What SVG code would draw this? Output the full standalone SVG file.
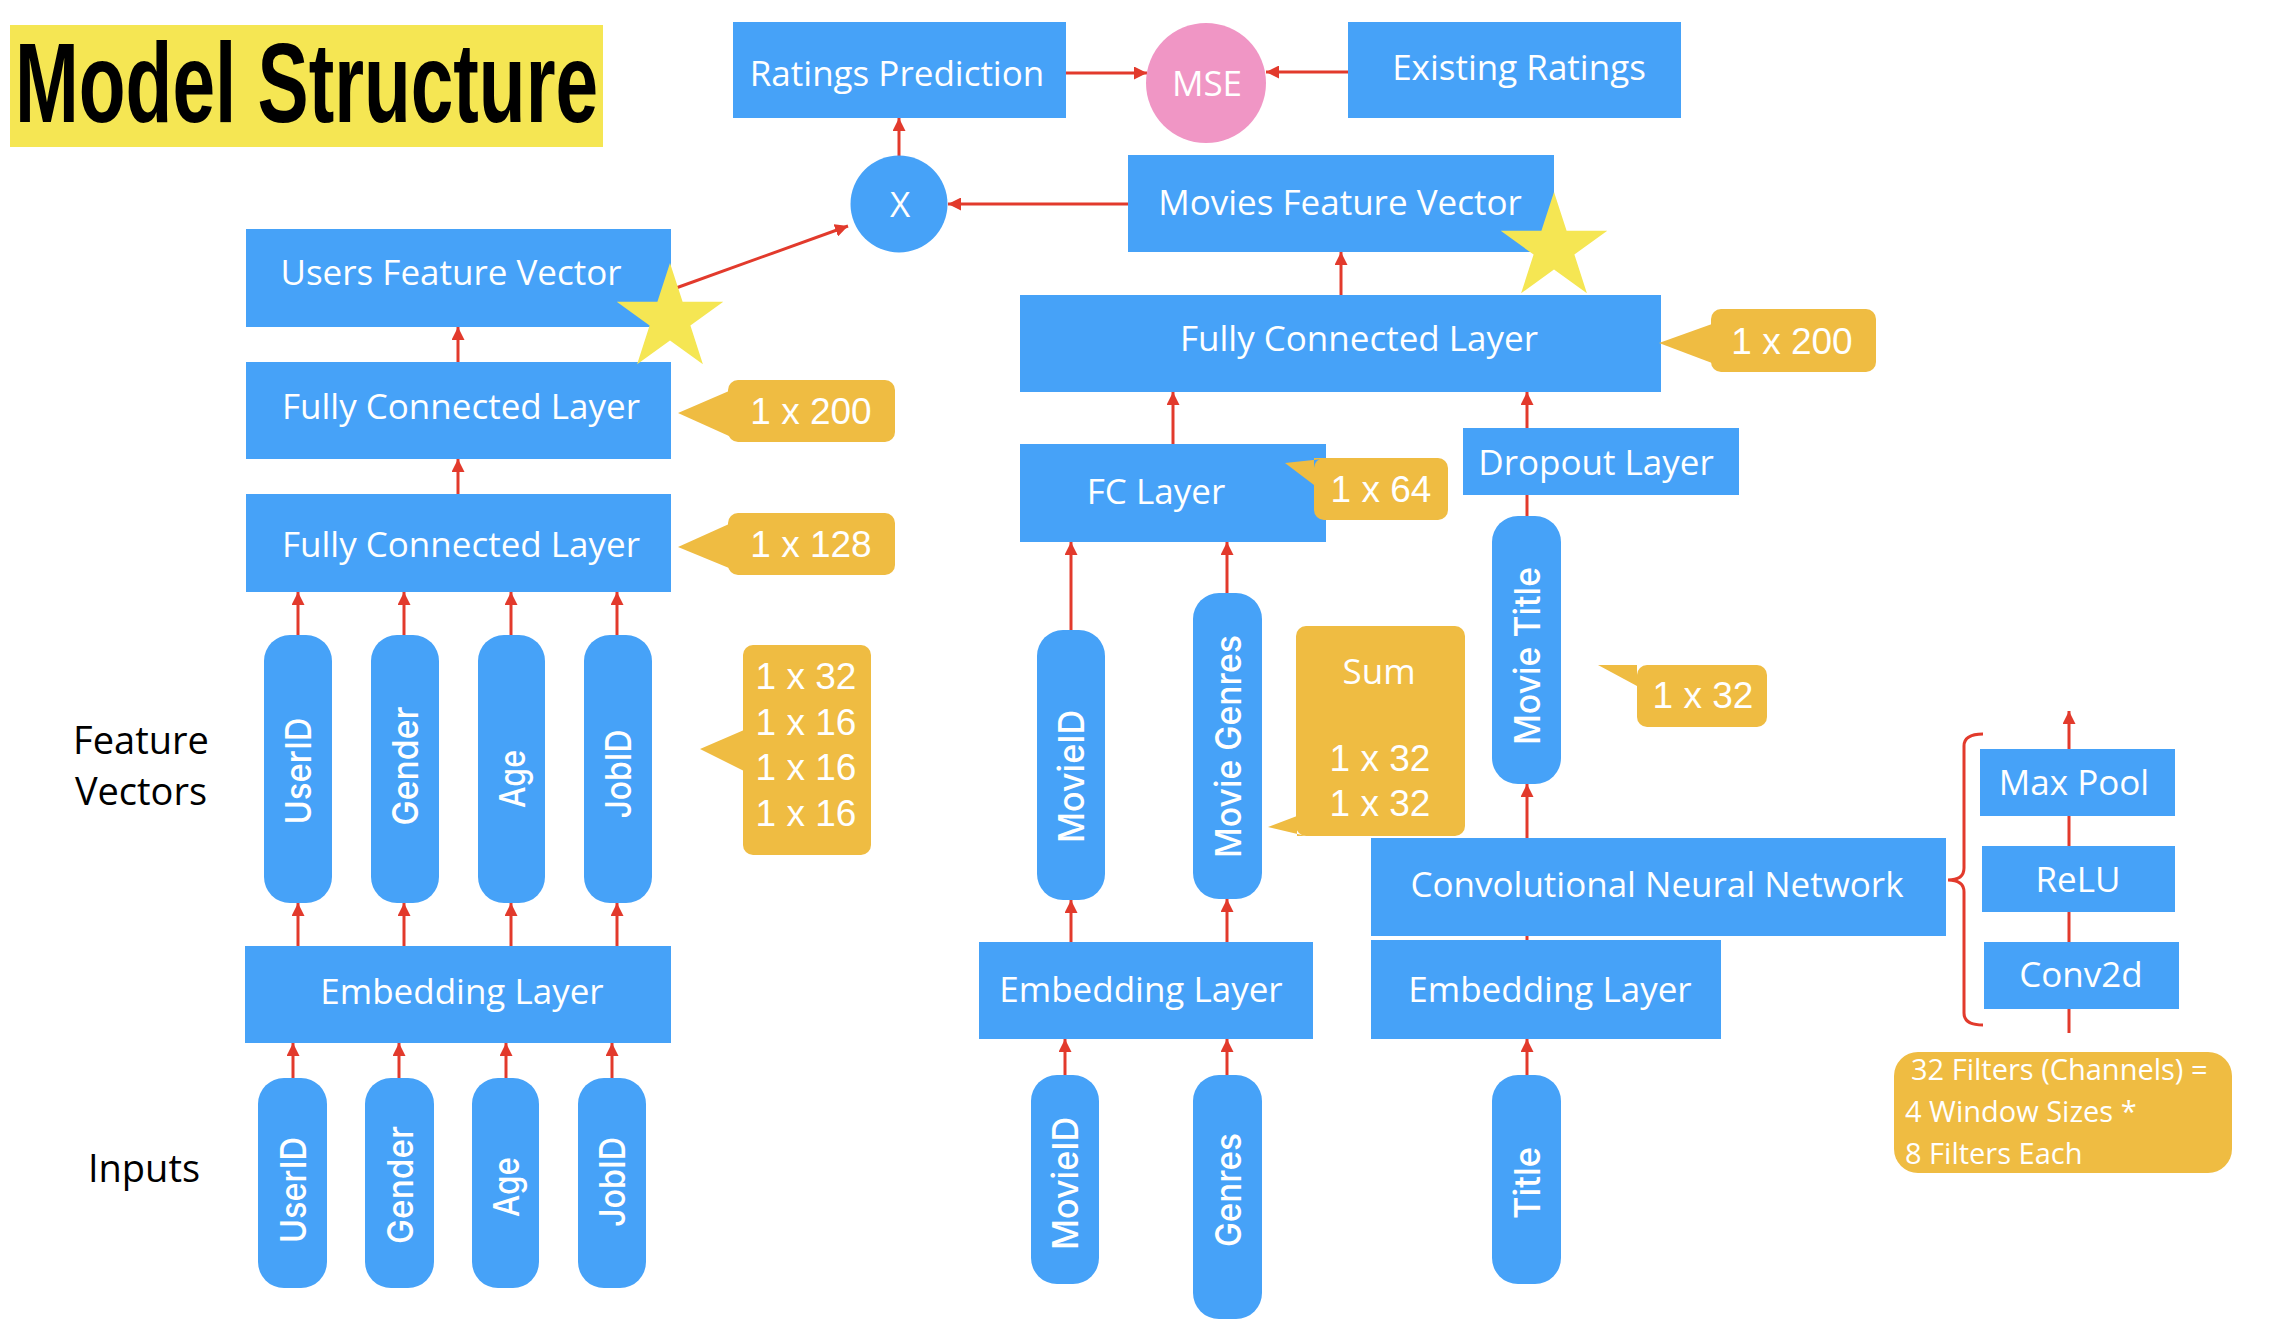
<svg xmlns="http://www.w3.org/2000/svg" xmlns:xlink="http://www.w3.org/1999/xlink" width="2284" height="1328" viewBox="0 0 2284 1328">
<style>
.box{fill:#46A2F8}
.badge{fill:#EFBC42}
.star{fill:#F5E653}
.lbl{font-family:'Open Sans','Liberation Sans',sans-serif;font-size:35px;fill:#fff;text-anchor:middle}
.num{font-family:'Liberation Sans',sans-serif;font-size:37px}
.small{font-size:29px;text-anchor:start}
.side{font-family:'Open Sans','Liberation Sans',sans-serif;font-size:38px;fill:#000;text-anchor:middle}
.pt{font-family:Inter,'DejaVu Sans',sans-serif;font-size:36px;font-weight:500;fill:#fff;text-anchor:middle}
.conn line,.conn path{stroke:#E23A2C;stroke-width:3;fill:none}
</style>
<defs>
<marker id="ah" viewBox="0 0 13 13" refX="13" refY="6.5" markerWidth="13" markerHeight="13" markerUnits="userSpaceOnUse" orient="auto">
<path d="M0,0 L13,6.5 L0,13 z" fill="#E23A2C"/>
</marker>
<polygon id="starShape" points="0,-56 12.6,-17.3 53.3,-17.3 20.4,6.6 32.9,45.3 0,21.4 -32.9,45.3 -20.4,6.6 -53.3,-17.3 -12.6,-17.3"/>
</defs>

<g id="title">
<rect x="10" y="25" width="593" height="122" fill="#F5E653"/>
<text transform="translate(15,122) scale(0.672,1)" font-family="'Liberation Sans',sans-serif" font-weight="bold" font-size="114" fill="#000">Model Structure</text>
</g>

<g id="connectors" class="conn">
<line x1="1066" y1="73" x2="1147" y2="73" marker-end="url(#ah)"/>
<line x1="1348" y1="72" x2="1266" y2="72" marker-end="url(#ah)"/>
<line x1="899" y1="156" x2="899" y2="118" marker-end="url(#ah)"/>
<line x1="1128" y1="204" x2="948" y2="204" marker-end="url(#ah)"/>
<line x1="676" y1="288" x2="848" y2="226" marker-end="url(#ah)"/>
<line x1="458" y1="362" x2="458" y2="327" marker-end="url(#ah)"/>
<line x1="458" y1="494" x2="458" y2="459" marker-end="url(#ah)"/>
<line x1="298" y1="635" x2="298" y2="592" marker-end="url(#ah)"/>
<line x1="404" y1="635" x2="404" y2="592" marker-end="url(#ah)"/>
<line x1="511" y1="635" x2="511" y2="592" marker-end="url(#ah)"/>
<line x1="617" y1="635" x2="617" y2="592" marker-end="url(#ah)"/>
<line x1="298" y1="946" x2="298" y2="903" marker-end="url(#ah)"/>
<line x1="404" y1="946" x2="404" y2="903" marker-end="url(#ah)"/>
<line x1="511" y1="946" x2="511" y2="903" marker-end="url(#ah)"/>
<line x1="617" y1="946" x2="617" y2="903" marker-end="url(#ah)"/>
<line x1="293" y1="1078" x2="293" y2="1043" marker-end="url(#ah)"/>
<line x1="399" y1="1078" x2="399" y2="1043" marker-end="url(#ah)"/>
<line x1="506" y1="1078" x2="506" y2="1043" marker-end="url(#ah)"/>
<line x1="612" y1="1078" x2="612" y2="1043" marker-end="url(#ah)"/>
<line x1="1341" y1="295" x2="1341" y2="252" marker-end="url(#ah)"/>
<line x1="1173" y1="444" x2="1173" y2="392" marker-end="url(#ah)"/>
<line x1="1527" y1="428" x2="1527" y2="392" marker-end="url(#ah)"/>
<line x1="1527" y1="516" x2="1527" y2="495"/>
<line x1="1071" y1="630" x2="1071" y2="542" marker-end="url(#ah)"/>
<line x1="1227" y1="593" x2="1227" y2="542" marker-end="url(#ah)"/>
<line x1="1071" y1="942" x2="1071" y2="900" marker-end="url(#ah)"/>
<line x1="1227" y1="942" x2="1227" y2="899" marker-end="url(#ah)"/>
<line x1="1065" y1="1075" x2="1065" y2="1039" marker-end="url(#ah)"/>
<line x1="1227" y1="1075" x2="1227" y2="1039" marker-end="url(#ah)"/>
<line x1="1527" y1="838" x2="1527" y2="784" marker-end="url(#ah)"/>
<line x1="1527" y1="1075" x2="1527" y2="1039" marker-end="url(#ah)"/>
<line x1="1527" y1="940" x2="1527" y2="936"/>
<line x1="2069" y1="1033" x2="2069" y2="711" marker-end="url(#ah)"/>
<path d="M1983,734 Q1964,734 1964,746 L1964,868 Q1964,880 1948,880 Q1964,880 1964,892 L1964,1013 Q1964,1025 1983,1025" stroke-width="4"/>
</g>

<g id="ratings-prediction"><rect class="box" x="733" y="22" width="333" height="96"/><text class="lbl" x="897" y="86">Ratings Prediction</text></g>
<g id="mse"><circle cx="1206" cy="83" r="60" fill="#F096C5"/><text class="lbl" x="1207" y="96">MSE</text></g>
<g id="existing-ratings"><rect class="box" x="1348" y="22" width="333" height="96"/><text class="lbl" x="1519" y="80">Existing Ratings</text></g>
<g id="multiply"><circle class="box" cx="899" cy="204" r="48.5"/><text class="lbl" x="900" y="217">X</text></g>

<g id="users-feature-vector"><rect class="box" x="246" y="229" width="425" height="98"/><text class="lbl" x="451" y="285">Users Feature Vector</text></g>
<g id="users-fc-200"><rect class="box" x="246" y="362" width="425" height="97"/><text class="lbl" x="461" y="419">Fully Connected Layer</text></g>
<g id="users-fc-128"><rect class="box" x="246" y="494" width="425" height="98"/><text class="lbl" x="461" y="557">Fully Connected Layer</text></g>
<g id="users-embedding"><rect class="box" x="245" y="946" width="426" height="97"/><text class="lbl" x="462" y="1004">Embedding Layer</text></g>

<g id="star-users"><use xlink:href="#starShape" href="#starShape" class="star" transform="translate(670,319)"/></g>

<g id="badge-u200"><rect class="badge" x="728" y="380" width="167" height="62" rx="10"/><polygon class="badge" points="678,413 729,391 729,436"/><text class="lbl num" x="811" y="424">1 x 200</text></g>
<g id="badge-u128"><rect class="badge" x="728" y="513" width="167" height="62" rx="10"/><polygon class="badge" points="678,547 729,524 729,568"/><text class="lbl num" x="811" y="557">1 x 128</text></g>
<g id="badge-ufeat"><rect class="badge" x="743" y="645" width="128" height="210" rx="10"/><polygon class="badge" points="700,749 744,730 744,771"/>
<text class="lbl num" x="806" y="689">1 x 32</text><text class="lbl num" x="806" y="735">1 x 16</text><text class="lbl num" x="806" y="780">1 x 16</text><text class="lbl num" x="806" y="826">1 x 16</text></g>

<g id="label-feature-vectors"><text class="side" x="141" y="754">Feature</text><text class="side" x="141" y="805">Vectors</text></g>
<g id="label-inputs"><text class="side" x="144" y="1182">Inputs</text></g>

<g id="f-userid"><rect class="box" x="264" y="635" width="68" height="268" rx="26"/><text class="pt" transform="translate(298,771) rotate(-90)" y="13" textLength="107" lengthAdjust="spacingAndGlyphs">UserID</text></g>
<g id="f-gender"><rect class="box" x="371" y="635" width="68" height="268" rx="26"/><text class="pt" transform="translate(405,766) rotate(-90)" y="13" textLength="119" lengthAdjust="spacingAndGlyphs">Gender</text></g>
<g id="f-age"><rect class="box" x="478" y="635" width="67" height="268" rx="26"/><text class="pt" transform="translate(511.5,779) rotate(-90)" y="13" textLength="58" lengthAdjust="spacingAndGlyphs">Age</text></g>
<g id="f-jobid"><rect class="box" x="584" y="635" width="68" height="268" rx="26"/><text class="pt" transform="translate(618,774) rotate(-90)" y="13" textLength="89" lengthAdjust="spacingAndGlyphs">JobID</text></g>

<g id="i-userid"><rect class="box" x="258" y="1078" width="69" height="210" rx="26"/><text class="pt" transform="translate(292.5,1190) rotate(-90)" y="13" textLength="106" lengthAdjust="spacingAndGlyphs">UserID</text></g>
<g id="i-gender"><rect class="box" x="365" y="1078" width="69" height="210" rx="26"/><text class="pt" transform="translate(399.5,1185) rotate(-90)" y="13" textLength="118" lengthAdjust="spacingAndGlyphs">Gender</text></g>
<g id="i-age"><rect class="box" x="472" y="1078" width="67" height="210" rx="26"/><text class="pt" transform="translate(505.5,1187) rotate(-90)" y="13" textLength="60" lengthAdjust="spacingAndGlyphs">Age</text></g>
<g id="i-jobid"><rect class="box" x="578" y="1078" width="68" height="210" rx="26"/><text class="pt" transform="translate(612,1182) rotate(-90)" y="13" textLength="90" lengthAdjust="spacingAndGlyphs">JobID</text></g>

<g id="movies-feature-vector"><rect class="box" x="1128" y="155" width="426" height="97"/><text class="lbl" x="1340" y="215">Movies Feature Vector</text></g>
<g id="star-movies"><use xlink:href="#starShape" href="#starShape" class="star" transform="translate(1554,248)"/></g>
<g id="movies-fc-200"><rect class="box" x="1020" y="295" width="641" height="97"/><text class="lbl" x="1359" y="351">Fully Connected Layer</text></g>
<g id="badge-m200"><rect class="badge" x="1711" y="309" width="165" height="63" rx="10"/><polygon class="badge" points="1659,343 1712,324 1712,363"/><text class="lbl num" x="1792" y="354">1 x 200</text></g>
<g id="movies-fc-64"><rect class="box" x="1020" y="444" width="306" height="98"/><text class="lbl" x="1156" y="504">FC Layer</text></g>
<g id="badge-m64"><rect class="badge" x="1314" y="458" width="134" height="62" rx="10"/><polygon class="badge" points="1285,463 1332,458 1314,458 1314,485"/><text class="lbl num" x="1381" y="502">1 x 64</text></g>
<g id="dropout"><rect class="box" x="1463" y="428" width="276" height="67"/><text class="lbl" x="1596" y="475">Dropout Layer</text></g>

<g id="f-movieid"><rect class="box" x="1037" y="630" width="68" height="270" rx="26"/><text class="pt" transform="translate(1071,776.5) rotate(-90)" y="13" textLength="133" lengthAdjust="spacingAndGlyphs">MovieID</text></g>
<g id="f-moviegenres"><rect class="box" x="1193" y="593" width="69" height="306" rx="26"/><text class="pt" transform="translate(1227.5,746.5) rotate(-90)" y="13" textLength="223" lengthAdjust="spacingAndGlyphs">Movie Genres</text></g>
<g id="badge-sum"><rect class="badge" x="1296" y="626" width="169" height="210" rx="10"/><polygon class="badge" points="1297,816 1268,827 1306,836 1297,836"/>
<text class="lbl" x="1379" y="684" font-size="38">Sum</text><text class="lbl num" x="1380" y="771">1 x 32</text><text class="lbl num" x="1380" y="816">1 x 32</text></g>
<g id="f-movietitle"><rect class="box" x="1492" y="516" width="69" height="268" rx="26"/><text class="pt" transform="translate(1526.5,656) rotate(-90)" y="13" textLength="178" lengthAdjust="spacingAndGlyphs">Movie Title</text></g>
<g id="badge-t32"><rect class="badge" x="1637" y="665" width="130" height="62" rx="10"/><polygon class="badge" points="1598,665 1652,665 1637,665 1637,686"/><text class="lbl num" x="1703" y="708">1 x 32</text></g>

<g id="cnn"><rect class="box" x="1371" y="838" width="575" height="98"/><text class="lbl" x="1657" y="897">Convolutional Neural Network</text></g>
<g id="title-embedding"><rect class="box" x="1371" y="940" width="350" height="99"/><text class="lbl" x="1550" y="1002">Embedding Layer</text></g>
<g id="movie-embedding"><rect class="box" x="979" y="942" width="334" height="97"/><text class="lbl" x="1141" y="1002">Embedding Layer</text></g>

<g id="i-movieid"><rect class="box" x="1031" y="1075" width="68" height="209" rx="26"/><text class="pt" transform="translate(1065,1183.5) rotate(-90)" y="13" textLength="133" lengthAdjust="spacingAndGlyphs">MovieID</text></g>
<g id="i-genres"><rect class="box" x="1193" y="1075" width="69" height="244" rx="26"/><text class="pt" transform="translate(1227.5,1190) rotate(-90)" y="13" textLength="114" lengthAdjust="spacingAndGlyphs">Genres</text></g>
<g id="i-title"><rect class="box" x="1492" y="1075" width="69" height="209" rx="26"/><text class="pt" transform="translate(1526.5,1183) rotate(-90)" y="13" textLength="72" lengthAdjust="spacingAndGlyphs">Title</text></g>

<g id="max-pool"><rect class="box" x="1980" y="749" width="195" height="67"/><text class="lbl" x="2074" y="795">Max Pool</text></g>
<g id="relu"><rect class="box" x="1982" y="846" width="193" height="66"/><text class="lbl" x="2078" y="892">ReLU</text></g>
<g id="conv2d"><rect class="box" x="1984" y="942" width="195" height="67"/><text class="lbl" x="2081" y="987">Conv2d</text></g>
<g id="badge-filters"><rect class="badge" x="1894" y="1052" width="338" height="121" rx="24"/>
<text class="lbl small" x="1911" y="1080">32 Filters (Channels) =</text><text class="lbl small" x="1905" y="1122">4 Window Sizes *</text><text class="lbl small" x="1905" y="1164">8 Filters Each</text></g>
</svg>
